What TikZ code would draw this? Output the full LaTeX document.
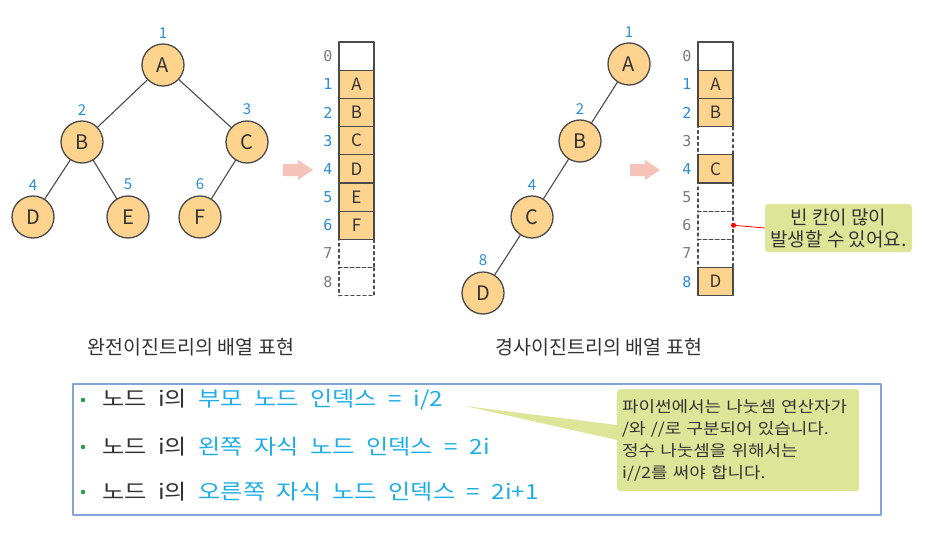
\documentclass[tikz,border=0pt]{standalone}
\usepackage{fontspec}
\setmainfont{Noto Sans CJK KR}
\newfontfamily\monofont{DejaVu Sans Mono}
\newfontfamily\widefont[FakeStretch=1.15]{Noto Sans CJK KR}
\newcommand\widespace{\spaceskip=.55em\relax}
\definecolor{nodefill}{HTML}{FDD38E}
\definecolor{linegray}{HTML}{4A4A4A}
\definecolor{idxblue}{HTML}{2A8BD6}
\definecolor{idxgray}{HTML}{7A7A7A}
\definecolor{arrowpink}{HTML}{F6C3BA}
\definecolor{notegreen}{HTML}{DDE698}
\definecolor{textcyan}{HTML}{1FADE8}
\definecolor{textdark}{HTML}{333333}
\definecolor{boxblue}{HTML}{86A3D8}
\definecolor{bulletgreen}{HTML}{2E9A50}
\tikzset{
 treenode/.style={circle, draw=linegray, line width=1.3pt, fill=nodefill, minimum size=42pt, inner sep=0pt, font=\fontsize{20}{22}\selectfont, text=textdark},
 idx/.style={text=idxblue, font=\fontsize{15}{17}\selectfont, inner sep=1pt, label distance=4pt},
 fullcell/.style={draw=linegray, line width=1.1pt, fill=nodefill, minimum width=35pt, minimum height=28.2pt, inner sep=0pt, font=\fontsize{17}{19}\selectfont, text=textdark},
 zerocell/.style={draw=linegray, line width=1.1pt, fill=white, minimum width=35pt, minimum height=28.2pt, inner sep=0pt},
 emptycell/.style={draw=linegray, line width=1.1pt, dashed, minimum width=35pt, minimum height=28.2pt, inner sep=0pt},
 rowno/.style={font=\monofont\fontsize{15}{17}\selectfont, inner sep=0pt},
 caption/.style={font=\fontsize{19.5}{22}\selectfont, text=textdark},
 bulletline/.style={anchor=west, inner sep=0pt, text=textcyan, font=\widefont\fontsize{21}{24}\selectfont\widespace},
 notebox/.style={fill=notegreen, rounded corners=3pt, text=textdark, align=left, font=\fontsize{17}{22}\selectfont}
}
\begin{document}
\begin{tikzpicture}[x=1pt, y=-1pt, line join=round, line cap=round]
 \useasboundingbox (0,0) rectangle (940,546);
 % complete binary tree
 \node[treenode, label={[idx]above:1}] (lA) at (163,65) {A};
 \node[treenode, label={[idx]above:2}] (lB) at (82,142) {B};
 \node[treenode, label={[idx]above:3}] (lC) at (247,142) {C};
 \node[treenode, label={[idx]above:4}] (lD) at (33,217) {D};
 \node[treenode, label={[idx]above:5}] (lE) at (128,217) {E};
 \node[treenode, label={[idx]above:6}] (lF) at (200,217) {F};
 \draw[linegray, line width=1.1pt] (lA)--(lB) (lA)--(lC) (lB)--(lD) (lB)--(lE) (lC)--(lF);
 \foreach \k/\v/\s/\c in {0/{}/zerocell/idxgray, 1/A/fullcell/idxblue, 2/B/fullcell/idxblue, 3/C/fullcell/idxblue, 4/D/fullcell/idxblue, 5/E/fullcell/idxblue, 6/F/fullcell/idxblue, 7/{}/emptycell/idxgray, 8/{}/emptycell/idxgray}{
  \node[\s] (cL\k) at (356.5,56.1+28.2*\k) {\v};
  \node[rowno, text=\c] (nL\k) at (328,56.1+28.2*\k) {\k};
 }
 \node[caption] (capL) at (191,347) {완전이진트리의 배열 표현};
 % skewed binary tree
 \node[treenode, label={[idx]above:1}] (rA) at (629,64) {A};
 \node[treenode, label={[idx]above:2}] (rB) at (580,141) {B};
 \node[treenode, label={[idx]above:4}] (rC) at (532,217) {C};
 \node[treenode, label={[idx]above:8}] (rD) at (483,293) {D};
 \draw[linegray, line width=1.1pt] (rA)--(rB) (rB)--(rC) (rC)--(rD);
 \foreach \k/\v/\s/\c in {0/{}/zerocell/idxgray, 1/A/fullcell/idxblue, 2/B/fullcell/idxblue, 3/{}/emptycell/idxgray, 4/C/fullcell/idxblue, 5/{}/emptycell/idxgray, 6/{}/emptycell/idxgray, 7/{}/emptycell/idxgray, 8/D/fullcell/idxblue}{
  \node[\s] (cR\k) at (715.5,56.1+28.2*\k) {\v};
  \node[rowno, text=\c] (nR\k) at (687,56.1+28.2*\k) {\k};
 }
 \node[caption] (capR) at (599,347) {경사이진트리의 배열 표현};
 % block arrows
 \foreach \ax in {283,630}
  \fill[arrowpink] (\ax,164) -- (\ax+15,164) -- (\ax+15,160) -- (\ax+30,170) -- (\ax+15,180) -- (\ax+15,176) -- (\ax,176) -- cycle;
 % callout
 \node[notebox, align=center, minimum width=147pt, minimum height=48pt, inner sep=2pt, font=\fontsize{19}{22}\selectfont] (empty) at (838.5,228) {빈 칸이 많이\\발생할 수 있어요.};
 \draw[red, line width=.8pt] (cR6.east) -- (empty.west);
 \fill[red] (cR6.east) circle (2.5pt);
 % index formulas
 \draw[boxblue, line width=1.2pt] (73,384) rectangle (881,515);
 \foreach \y/\n in {400/P,447/L,492/R}
  \fill[bulletgreen] (83,\y) circle (2.3pt) coordinate (dot\n);
 \node[bulletline] (lineP) at (102,400) {\textcolor{textdark}{노드 i의} 부모 노드 인덱스 = i/2};
 \node[bulletline] (lineL) at (102,447) {\textcolor{textdark}{노드 i의} 왼쪽 자식 노드 인덱스 = 2i};
 \node[bulletline] (lineR) at (102,492) {\textcolor{textdark}{노드 i의} 오른쪽 자식 노드 인덱스 = 2i+1};
 \node[notebox, anchor=north west, minimum height=102pt, inner xsep=5pt, inner ysep=4pt, text width=232pt, font=\widefont\fontsize{15.6}{22}\selectfont] (python) at (617,389) {파이썬에서는 나눗셈 연산자가\\/와 //로 구분되어 있습니다.\\정수 나눗셈을 위해서는\\i//2를 써야 합니다.};
 \coordinate (tip) at (465,406);
 \fill[notegreen] (tip) -- ([yshift=-36pt]python.north west) -- ([yshift=-51pt]python.north west) -- cycle;
\end{tikzpicture}
\end{document}
